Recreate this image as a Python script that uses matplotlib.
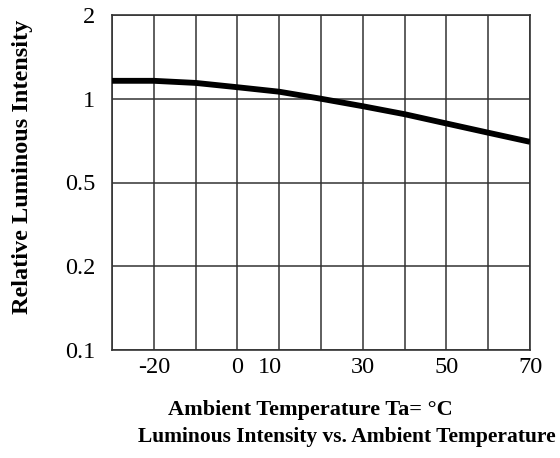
import numpy as np
import matplotlib.pyplot as plt
from matplotlib.transforms import ScaledTranslation

# Data
temperature = [-30, -20, -10, 0, 10, 20, 30, 40, 50, 60, 70]
rel_intensity = [1.16, 1.16, 1.14, 1.10, 1.06, 1.00, 0.94, 0.88, 0.815, 0.755, 0.70]

y_ticks = [0.1, 0.2, 0.5, 1, 2]
y_tick_labels = ["0.1", "0.2", "0.5", "1", "2"]
x_ticks = [-20, 0, 10, 30, 50, 70]
x_grid = [-30, -20, -10, 0, 10, 20, 30, 40, 50, 60, 70]

# y axis: tick values are evenly spaced, log within each interval
_pos = np.arange(len(y_ticks), dtype=float)
_logt = np.log10(y_ticks)


def forward(v):
    v = np.clip(np.asarray(v, dtype=float), 1e-6, None)
    return np.interp(np.log10(v), _logt, _pos)


def inverse(p):
    return 10 ** np.interp(np.asarray(p, dtype=float), _pos, _logt)


plt.rcParams['font.family'] = ['Liberation Serif', 'DejaVu Serif']

fig = plt.figure(figsize=(5.6, 4.58), dpi=100)
ax = fig.add_axes([112 / 560, 1 - 350 / 458, (530 - 112) / 560, (350 - 15) / 458])

ax.set_yscale('function', functions=(forward, inverse))
ax.set_xlim(-30, 70)
ax.set_ylim(0.1, 2)

for xg in x_grid:
    ax.axvline(xg, color='#333333', lw=1.1, zorder=1)
for yg in y_ticks:
    ax.axhline(yg, color='#333333', lw=1.1, zorder=1)

ax.plot(temperature, rel_intensity, color='black', lw=4.2, zorder=3,
        solid_capstyle='butt')

ax.set_xticks(x_ticks)
ax.set_xticklabels([str(t) for t in x_ticks], fontsize=17.5)
ax.set_yticks(y_ticks)
ax.set_yticklabels(y_tick_labels, fontsize=17.5)
ax.yaxis.set_minor_locator(plt.NullLocator())
ax.tick_params(length=0, pad=12, axis='y')
ax.tick_params(length=0, pad=5, axis='x')

# the "10" label sits a little left of its grid line in the reference
lbl = ax.get_xticklabels()[2]
lbl.set_transform(lbl.get_transform() + ScaledTranslation(-9 / 100, 0, fig.dpi_scale_trans))

for s in ax.spines.values():
    s.set_color('#333333')
    s.set_linewidth(1.2)

fig.text(23 / 560, 1 - 167 / 458, "Relative Luminous Intensity", rotation=90,
         ha='center', va='center', fontsize=17.5, fontweight='bold')
fig.text(310 / 560, 1 - 410 / 458, "Ambient Temperature Ta= \u00b0C",
         ha='center', va='center', fontsize=16, fontweight='bold')
fig.text(347 / 560, 1 - 437 / 458, "Luminous Intensity vs. Ambient Temperature",
         ha='center', va='center', fontsize=15.5, fontweight='bold')

fig.savefig("out.png", dpi=100)
